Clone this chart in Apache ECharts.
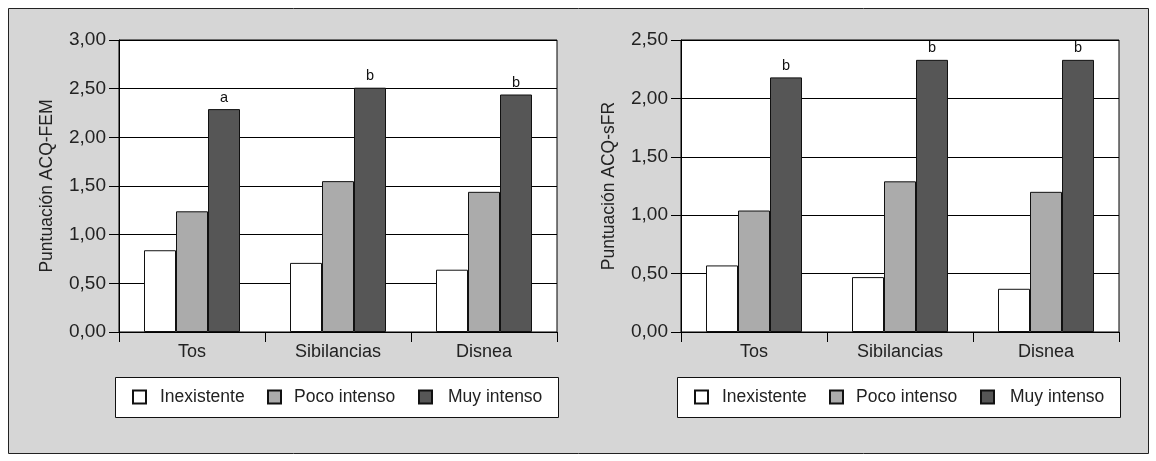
<!DOCTYPE html>
<html>
<head>
<meta charset="utf-8">
<script src="https://cdn.jsdelivr.net/npm/echarts@6/dist/echarts.min.js"></script>
<style>
html,body{margin:0;padding:0;background:#fff;}
#c{width:1156px;height:461px;}
</style>
</head>
<body>
<div id="c"></div>
<script>
const categories = ['Tos', 'Sibilancias', 'Disnea'];
const seriesNames = ['Inexistente', 'Poco intenso', 'Muy intenso'];
const femInexistente = [0.84, 0.71, 0.64];
const femPoco = [1.24, 1.55, 1.44];
const femMuy = [2.29, 2.51, 2.44];
const femLetters = ['a', 'b', 'b'];
const sfrInexistente = [0.57, 0.47, 0.37];
const sfrPoco = [1.04, 1.29, 1.20];
const sfrMuy = [2.18, 2.33, 2.33];
const sfrLetters = ['b', 'b', 'b'];
const femTickLabels = ['0,00', '0,50', '1,00', '1,50', '2,00', '2,50', '3,00'];
const sfrTickLabels = ['0,00', '0,50', '1,00', '1,50', '2,00', '2,50'];
const yNames = ['Puntuación ACQ-FEM', 'Puntuación ACQ-sFR'];

const FONT = "'Liberation Sans', Arial, sans-serif";
const FS = 17.5;
const TXT = '#222';
const fills = ['#ffffff', '#ababab', '#565656'];

const chart = echarts.init(document.getElementById('c'), null, {renderer: 'canvas'});

const gridLefts = [119, 681];
const grids = gridLefts.map(l => ({
  left: l, top: 40, width: 438, height: 292,
  show: true, backgroundColor: '#fff', borderColor: '#000', borderWidth: 1
}));

const xAxes = [0, 1].map(i => ({
  type: 'category', gridIndex: i, data: categories,
  axisLine: {lineStyle: {color: '#000', width: 1}},
  axisTick: {show: true, length: 10, lineStyle: {color: '#000'}},
  axisLabel: {color: TXT, fontFamily: FONT, fontSize: 18, margin: 11}
}));

const tickSets = [femTickLabels, sfrTickLabels];
const yAxes = [0, 1].map(i => ({
  type: 'value', gridIndex: i, min: 0, max: (tickSets[i].length - 1) * 0.5, interval: 0.5,
  name: yNames[i], nameLocation: 'middle', nameGap: 63,
  nameTextStyle: {color: TXT, fontFamily: FONT, fontSize: FS},
  axisLine: {show: true, lineStyle: {color: '#000', width: 1}},
  axisTick: {show: true, length: 10, lineStyle: {color: '#000'}},
  axisLabel: {color: TXT, fontFamily: FONT, fontSize: 19, margin: 13,
    formatter: v => tickSets[i][Math.round(v / 0.5)]},
  splitLine: {show: true, lineStyle: {color: '#000', width: 1}}
}));

const dataSets = [[femInexistente, femPoco, femMuy], [sfrInexistente, sfrPoco, sfrMuy]];
const letterSets = [femLetters, sfrLetters];
const series = [];
[0, 1].forEach(g => {
  seriesNames.forEach((name, k) => {
    const s = {
      type: 'bar', name: name, xAxisIndex: g, yAxisIndex: g,
      data: dataSets[g][k], barWidth: 32, barGap: '0%',
      itemStyle: {color: fills[k], borderColor: '#111', borderWidth: 1},
      emphasis: {disabled: true}
    };
    if (k === 2) {
      s.label = {show: true, position: 'top', distance: 4, color: '#111',
        fontFamily: FONT, fontSize: 14.5,
        formatter: p => letterSets[g][p.dataIndex]};
    }
    series.push(s);
  });
});

const legendIconX = [132, 267, 418];
const legendTextGap = [9, 8, 11];
const legends = [];
[0, 562].forEach(off => {
  seriesNames.forEach((name, k) => {
    legends.push({
      data: [name], left: legendIconX[k] + off, top: 388, padding: 0,
      itemWidth: 13, itemHeight: 13, icon: 'rect', selectedMode: false,
      textStyle: {color: TXT, fontFamily: FONT, fontSize: FS, padding: [0, 0, 0, legendTextGap[k]]}
    });
  });
});

const graphics = [
  {type: 'rect', z: -10, shape: {x: 8.5, y: 8.5, width: 1140, height: 445},
   style: {fill: '#d6d6d6', stroke: '#222', lineWidth: 1}},
  {type: 'rect', z: -5, shape: {x: 115.5, y: 377.5, width: 443, height: 40},
   style: {fill: '#fff', stroke: '#111', lineWidth: 1}},
  {type: 'rect', z: -5, shape: {x: 677.5, y: 377.5, width: 443, height: 40},
   style: {fill: '#fff', stroke: '#111', lineWidth: 1}}
];

chart.setOption({
  animation: false,
  backgroundColor: '#fff',
  graphic: graphics,
  grid: grids,
  xAxis: xAxes,
  yAxis: yAxes,
  legend: legends,
  series: series
});
</script>
</body>
</html>
